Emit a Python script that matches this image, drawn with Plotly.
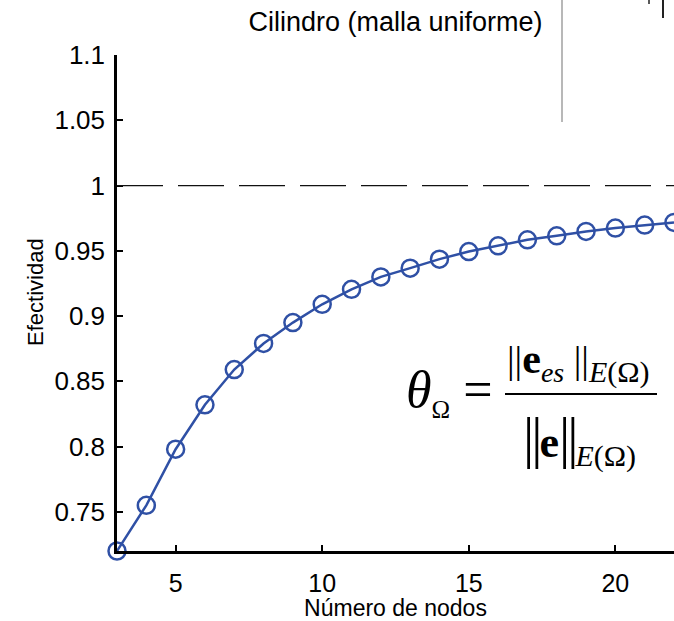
import plotly.graph_objects as go

# ---- data ----
nodos = [3, 4, 5, 6, 7, 8, 9, 10, 11, 12, 13, 14, 15, 16, 17, 18, 19, 20, 21, 22]
efectividad = [0.720, 0.755, 0.798, 0.832, 0.859, 0.879, 0.895, 0.909, 0.9205, 0.930,
               0.9367, 0.9436, 0.9494, 0.9538, 0.9584, 0.9615, 0.9648, 0.9674, 0.9697, 0.9717]
x_ticks = [5, 10, 15, 20]
y_ticks = [0.75, 0.8, 0.85, 0.9, 0.95, 1.0, 1.05, 1.1]
y_ticktext = ["0.75", "0.8", "0.85", "0.9", "0.95", "1", "1.05", "1.1"]
reference_value = 1.0

W, H = 674, 621
ML, MR, MT, MB = 117, 0, 55, 70
PW, PH = W - ML - MR, H - MT - MB

def px(x):
    return (x - ML) / PW

def py(y):
    return (H - MB - y) / PH

BLUE = "#2f50a5"
SANS = "Liberation Sans, Arial, sans-serif"
SERIF = "Liberation Serif, Times New Roman, serif"

fig = go.Figure()
fig.add_trace(go.Scatter(
    x=nodos, y=efectividad, mode="lines+markers",
    line=dict(color=BLUE, width=2.5),
    marker=dict(symbol="circle-open", size=17, color=BLUE, line=dict(width=2.5, color=BLUE)),
    cliponaxis=False, hoverinfo="skip",
))

shapes = [
    dict(type="line", xref="paper", yref="y", x0=0, x1=1, y0=reference_value, y1=reference_value,
         line=dict(color="#111111", width=1.3, dash="46px,15px")),
    # fraction bar
    dict(type="line", xref="paper", yref="paper", x0=px(505), x1=px(657), y0=py(394), y1=py(394),
         line=dict(color="black", width=2)),
    # fragments of neighbouring figure
    dict(type="line", xref="paper", yref="paper", x0=px(562), x1=px(562), y0=py(122), y1=py(0),
         line=dict(color="#b8b8b8", width=2)),
    dict(type="line", xref="paper", yref="paper", x0=px(663), x1=px(663), y0=py(18), y1=py(0),
         line=dict(color="#222222", width=2)),
    dict(type="line", xref="paper", yref="paper", x0=px(649), x1=px(649), y0=py(4), y1=py(0),
         line=dict(color="#222222", width=1.5)),
]

def ann(text, x, y, size, xanchor="center", family=SERIF):
    return dict(text=text, xref="paper", yref="paper", x=px(x), y=py(y), xanchor=xanchor,
                yanchor="middle", showarrow=False, font=dict(family=family, size=size, color="black"))

numerator = ("<span style='font-size:38px'>||</span><b>e</b>"
             "<sub><i><span style='font-size:28px'>es</span></i></sub>"
             "<span style='font-size:38px'> ||</span>"
             "<sub><span style='font-size:30px'><i>E</i>(Ω)</span></sub>")
denominator = ("<span style='font-size:56px;letter-spacing:-3px'>||</span><b>e</b>"
               "<span style='font-size:56px;letter-spacing:-3px'>||</span>"
               "<sub><span style='font-size:30px'><i>E</i>(Ω)</span></sub>")

annotations = [
    dict(text="Efectividad", xref="paper", yref="paper", x=px(35), y=py(292), textangle=-90,
         xanchor="center", yanchor="middle", showarrow=False,
         font=dict(family=SANS, size=22, color="black")),
    # formula
    ann("<i>θ</i><sub><span style='font-size:25px'>Ω</span></sub> =", 404, 392, 52, "left"),
    ann(numerator, 505, 362, 42, "left"),
    ann(denominator, 521, 440, 44, "left"),
]

fig.update_layout(
    width=W, height=H,
    margin=dict(l=ML, r=MR, t=MT, b=MB, pad=0),
    paper_bgcolor="white", plot_bgcolor="white",
    showlegend=False,
    title=dict(text="Cilindro (malla uniforme)", x=0.5, xref="paper", xanchor="center",
               y=1 - 22 / H, yref="container", yanchor="middle",
               font=dict(family=SANS, size=27, color="black")),
    shapes=shapes, annotations=annotations,
    xaxis=dict(range=[3, 22], tickvals=x_ticks, ticks="inside", ticklen=6, tickwidth=2,
               tickcolor="black", showline=True, linecolor="black", linewidth=2.5,
               showgrid=False, zeroline=False, ticklabelstandoff=8,
               tickfont=dict(family=SANS, size=25, color="black"),
               title=dict(text="Número de nodos", standoff=9,
                          font=dict(family=SANS, size=23, color="black"))),
    yaxis=dict(range=[0.72, 1.1], tickvals=y_ticks, ticktext=y_ticktext, ticks="inside",
               ticklen=6, tickwidth=2, tickcolor="black", showline=True, linecolor="black",
               linewidth=2.5, showgrid=False, zeroline=False, ticklabelstandoff=4,
               tickfont=dict(family=SANS, size=26, color="black")),
)

fig.write_html("out.html")
